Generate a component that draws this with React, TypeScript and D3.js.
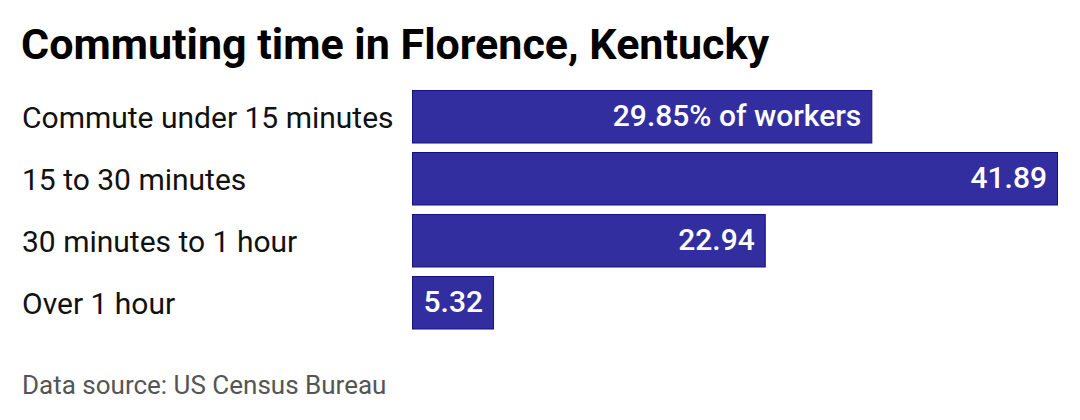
import * as d3 from "d3";
import { useEffect, useRef } from "react";

const categories: string[] = [
  "Commute under 15 minutes",
  "15 to 30 minutes",
  "30 minutes to 1 hour",
  "Over 1 hour",
];
const shares: number[] = [29.85, 41.89, 22.94, 5.32];
const valueLabels: string[] = ["29.85% of workers", "41.89", "22.94", "5.32"];

const title = "Commuting time in Florence, Kentucky";
const source = "Data source: US Census Bureau";

const width = 1080;
const height = 420;
const barLeft = 412;
const barRight = 1058;
const barTop = 90;
const barBottom = 329.5;
const font = "Roboto, 'Noto Sans', sans-serif";

export default function App() {
  const svgRef = useRef<SVGSVGElement>(null);

  useEffect(() => {
    const svg = d3.select(svgRef.current);
    svg.selectAll("*").remove();

    const x = d3
      .scaleLinear()
      .domain([0, d3.max(shares) as number])
      .range([barLeft, barRight]);

    const y = d3
      .scaleBand<string>()
      .domain(categories)
      .range([barTop, barBottom])
      .paddingInner(0.137)
      .paddingOuter(0);

    // title
    svg
      .append("text")
      .attr("x", 21)
      .attr("y", 59)
      .attr("font-family", font)
      .attr("font-size", 43)
      .attr("font-weight", 700)
      .attr("fill", "#000")
      .text(title);

    // bars
    svg
      .append("g")
      .selectAll("rect")
      .data(shares)
      .join("rect")
      .attr("x", x(0) + 0.5)
      .attr("y", (_, i) => (y(categories[i]) as number) + 0.5)
      .attr("width", (d) => x(d) - x(0) - 1)
      .attr("height", y.bandwidth() - 1)
      .attr("fill", "#332ea0")
      .attr("stroke", "#13137f")
      .attr("stroke-width", 1);

    // category labels
    svg
      .append("g")
      .selectAll("text")
      .data(categories)
      .join("text")
      .attr("x", 22)
      .attr("y", (d) => (y(d) as number) + y.bandwidth() / 2 + 11.5)
      .attr("font-family", font)
      .attr("font-size", 30)
      .attr("fill", "#111")
      .text((d) => d);

    // value labels inside bars
    svg
      .append("g")
      .selectAll("text")
      .data(shares)
      .join("text")
      .attr("x", (d) => x(d) - 11)
      .attr("y", (_, i) => (y(categories[i]) as number) + y.bandwidth() / 2 + 9)
      .attr("text-anchor", "end")
      .attr("font-family", font)
      .attr("font-size", 30)
      .attr("font-weight", 500)
      .attr("fill", "#fff")
      .text((_, i) => valueLabels[i]);

    // source
    svg
      .append("text")
      .attr("x", 22)
      .attr("y", 394)
      .attr("font-family", font)
      .attr("font-size", 26)
      .attr("fill", "#555")
      .text(source);
  }, []);

  return (
    <svg
      ref={svgRef}
      width={width}
      height={height}
      style={{ position: "absolute", left: 0, top: 0, background: "#fff" }}
    />
  );
}
